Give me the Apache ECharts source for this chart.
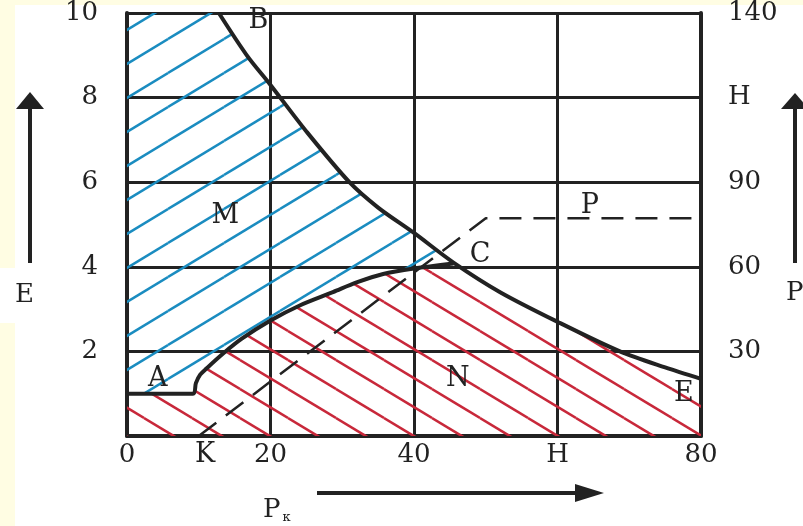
<!DOCTYPE html>
<html>
<head>
<meta charset="utf-8">
<script src="https://cdn.jsdelivr.net/npm/echarts@6/dist/echarts.min.js"></script>
<style>
  html, body { margin: 0; padding: 0; }
  #chart { width: 803px; height: 526px; }
</style>
</head>
<body>
<div id="chart"></div>
<script>
// tick labels
var xTickLabels = ['0', '20', '40', 'H', '80'];
var leftTickLabels = ['', '2', '4', '6', '8', '10'];
var rightTickLabels = ['', '30', '60', '90', 'H', '140'];

// upper boundary B -> C -> E
var upperCurve = [
    [12.8, 10], [16.7, 9.0], [20, 8.3], [25, 7.2], [31, 6.0], [35, 5.4],
    [40, 4.8], [45.5, 4.1], [52, 3.4], [60, 2.7], [68.7, 2.0], [75, 1.62],
    [80, 1.35]
];
// lower boundary A -> C
var lowerCurve = [
    [0, 1], [9.2, 1], [9.6, 1.25], [10.2, 1.45], [11.1, 1.6], [13.4, 1.95],
    [16, 2.3], [20, 2.73], [24, 3.08], [28.7, 3.4], [32, 3.63], [35.7, 3.83],
    [40, 3.96], [45.5, 4.08]
];
// dashed K -> P
var dashedLine = [[10, 0], [50, 5.15], [80, 5.15]];

// point / region letters
var letters = [
    { name: 'B', value: [18.3, 9.8] },
    { name: 'M', value: [13.7, 5.2] },
    { name: 'C', value: [49.2, 4.27] },
    { name: 'A', value: [4.3, 1.35] },
    { name: 'N', value: [46.1, 1.35] },
    { name: 'E', value: [77.6, 1.0] },
    { name: 'P', value: [64.5, 5.43] },
    { name: 'K', value: [10.9, -0.45] }
];

var cIndex = 7; // index of C in upperCurve

// region M: left of B-C, above A-C
var regionM = [[0, 1], [0, 10]]
    .concat(upperCurve.slice(0, cIndex + 1))
    .concat(lowerCurve.slice(1, lowerCurve.length - 1).reverse());
// region N: under A-C-E
var regionN = [[0, 0]]
    .concat(lowerCurve)
    .concat(upperCurve.slice(cIndex + 1))
    .concat([[80, 0]]);

var ink = '#222';
var serif = 'DejaVu Serif';

function hatch(color, w, h, phase, up) {
    var c = document.createElement('canvas');
    c.width = w;
    c.height = h;
    var ctx = c.getContext('2d');
    ctx.strokeStyle = color;
    ctx.lineWidth = 2.6;
    for (var i = -2; i <= 2; i++) {
        for (var j = -1; j <= 1; j++) {
            var ox = j * w, oy = i * h + phase;
            ctx.beginPath();
            if (up) {
                ctx.moveTo(ox, oy + h);
                ctx.lineTo(ox + w, oy);
            } else {
                ctx.moveTo(ox, oy);
                ctx.lineTo(ox + w, oy + h);
            }
            ctx.stroke();
        }
    }
    return c;
}

var blueHatch = hatch('#1a8cc0', 56, 34, 5, true);
var redHatch = hatch('#c8283a', 48, 29, 12, false);

function regionSeries(points, pattern) {
    return {
        type: 'custom',
        silent: true,
        z: 1,
        data: [[0, 0]],
        renderItem: function (params, api) {
            return {
                type: 'polygon',
                shape: { points: points.map(function (p) { return api.coord(p); }) },
                style: { fill: { image: pattern, repeat: 'repeat' }, stroke: null }
            };
        }
    };
}

var chart = echarts.init(document.getElementById('chart'));
chart.setOption({
    animation: false,
    backgroundColor: '#fffde3',
    graphic: [
        { type: 'rect', z: -10, shape: { x: 15, y: 5, width: 788, height: 521 }, style: { fill: '#fff' } },
        { type: 'rect', z: -10, shape: { x: 0, y: 268, width: 15, height: 55 }, style: { fill: '#fff' } },
        // left arrow + E
        { type: 'line', shape: { x1: 30, y1: 263, x2: 30, y2: 105 }, style: { stroke: ink, lineWidth: 4 } },
        { type: 'polygon', shape: { points: [[30, 92], [16, 109], [44, 109]] }, style: { fill: ink } },
        { type: 'text', left: 15, top: 282, style: { text: 'E', font: '26px "DejaVu Serif"', fill: ink } },
        // right arrow + P
        { type: 'line', shape: { x1: 795, y1: 263, x2: 795, y2: 105 }, style: { stroke: ink, lineWidth: 4 } },
        { type: 'polygon', shape: { points: [[795, 93], [781, 109], [809, 109]] }, style: { fill: ink } },
        { type: 'text', left: 786, top: 280, style: { text: 'P', font: '26px "DejaVu Serif"', fill: ink } },
        // bottom arrow + Pк
        { type: 'line', shape: { x1: 317, y1: 493, x2: 580, y2: 493 }, style: { stroke: ink, lineWidth: 4 } },
        { type: 'polygon', shape: { points: [[604, 493], [575, 484], [575, 502]] }, style: { fill: ink } },
        {
            type: 'text', left: 263, top: 497,
            style: {
                text: '{a|P}{b|к}',
                rich: {
                    a: { fontFamily: serif, fontSize: 26, fill: ink },
                    b: { fontFamily: serif, fontSize: 13, fill: ink, padding: [16, 0, 0, 2] }
                }
            }
        }
    ],
    grid: { left: 127, right: 102, top: 7, bottom: 90 },
    xAxis: {
        type: 'value', min: 0, max: 80, interval: 20,
        axisLine: { show: true, lineStyle: { color: ink, width: 4 } },
        axisTick: { show: false },
        splitLine: { show: true, lineStyle: { color: ink, width: 3 } },
        axisLabel: {
            margin: 6, fontFamily: serif, fontSize: 26, color: ink,
            formatter: function (v) { return xTickLabels[v / 20]; }
        }
    },
    yAxis: [
        {
            type: 'value', min: 0, max: 10, interval: 2, position: 'left',
            axisLine: { show: true, lineStyle: { color: ink, width: 4 } },
            axisTick: { show: false },
            splitLine: { show: true, lineStyle: { color: ink, width: 3 } },
            axisLabel: {
                margin: 29, fontFamily: serif, fontSize: 26, color: ink, padding: [10, 0, 0, 0],
                formatter: function (v) { return leftTickLabels[v / 2]; }
            }
        },
        {
            type: 'value', min: 0, max: 10, interval: 2, position: 'right',
            axisLine: { show: true, lineStyle: { color: ink, width: 4 } },
            axisTick: { show: false },
            splitLine: { show: false },
            axisLabel: {
                margin: 27, fontFamily: serif, fontSize: 26, color: ink, padding: [8, 0, 0, 0],
                formatter: function (v) { return rightTickLabels[v / 2]; }
            }
        }
    ],
    series: [
        regionSeries(regionM, blueHatch),
        regionSeries(regionN, redHatch),
        {
            type: 'line', data: dashedLine, symbol: 'none', z: 3,
            lineStyle: { color: ink, width: 2.5, type: [22, 12] }
        },
        {
            type: 'line', data: upperCurve, symbol: 'none', z: 4,
            smooth: 0.3,
            lineStyle: { color: ink, width: 4 }
        },
        {
            type: 'line', data: lowerCurve, symbol: 'none', z: 4,
            smooth: 0.3,
            lineStyle: { color: ink, width: 4 }
        },
        {
            type: 'scatter', data: letters, symbolSize: 0, clip: false, z: 5,
            itemStyle: { color: ink },
            label: {
                show: true, position: 'inside', formatter: '{b}',
                fontFamily: serif, fontSize: 27, color: ink,
                textBorderWidth: 0, opacity: 1
            }
        }
    ]
});
</script>
</body>
</html>
